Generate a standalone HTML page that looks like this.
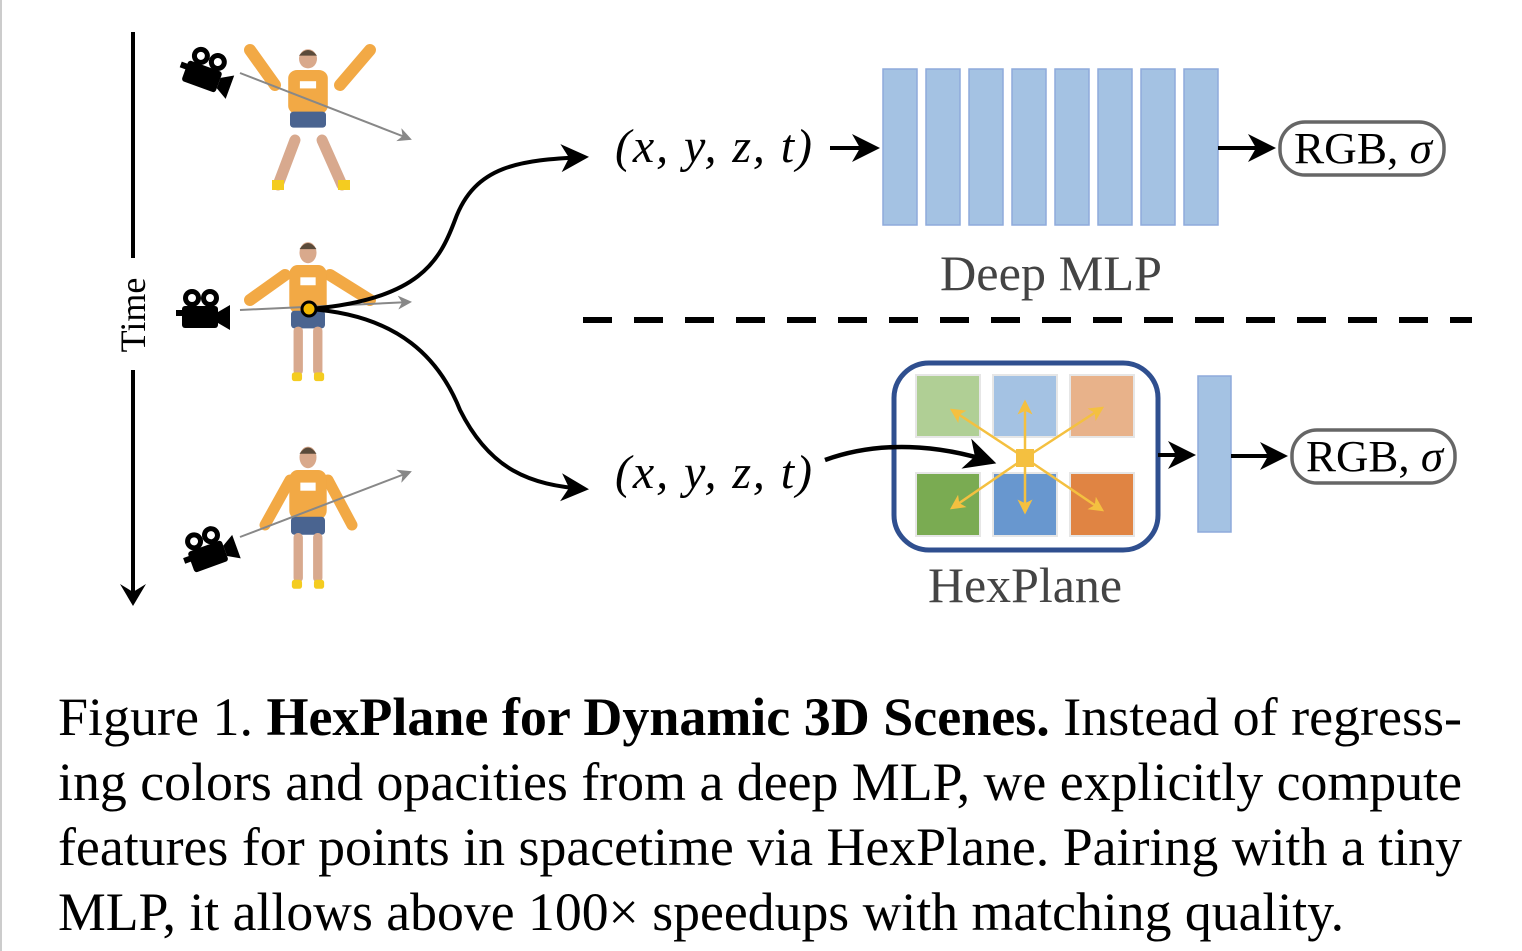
<!DOCTYPE html>
<html><head><meta charset="utf-8"><style>
html,body{margin:0;padding:0;background:#fff;}
svg{display:block;}
</style></head><body>
<svg width="1522" height="951" viewBox="0 0 1522 951" xmlns="http://www.w3.org/2000/svg">
<defs>
<marker id="ah" markerWidth="8" markerHeight="8" refX="6" refY="4" orient="auto" markerUnits="strokeWidth"><path d="M0,0.5 L7,4 L0,7.5 L2,4 Z" fill="#000"/></marker>
<marker id="ag" markerWidth="8" markerHeight="8" refX="6" refY="4" orient="auto" markerUnits="strokeWidth"><path d="M0,0.5 L7,4 L0,7.5 L2,4 Z" fill="#888"/></marker>
<marker id="ay" markerWidth="6" markerHeight="6" refX="5" refY="3" orient="auto" markerUnits="strokeWidth"><path d="M0,0 L6,3 L0,6 L1.5,3 Z" fill="#f4c040"/></marker>
<g id="cam">
<circle cx="-8" cy="-10" r="9" fill="#000"/><circle cx="10" cy="-10" r="9" fill="#000"/>
<circle cx="-8" cy="-10" r="4" fill="#fff"/><circle cx="10" cy="-10" r="4" fill="#fff"/>
<rect x="-18" y="-2" width="36" height="22" rx="3" fill="#000"/>
<path d="M18,4 L30,-3 L30,22 L18,15 Z" fill="#000"/>
<rect x="-24" y="2" width="8" height="6" fill="#000"/>
</g>
<g id="person">
<rect x="-22" y="0" width="44" height="55" rx="10" fill="#f2a945"/>
<rect x="-20" y="52" width="40" height="20" rx="4" fill="#4a6490"/>
<rect x="-17" y="70" width="11" height="55" rx="5" fill="#d8a98e"/>
<rect x="6" y="70" width="11" height="55" rx="5" fill="#d8a98e"/>
<rect x="-19" y="122" width="12" height="10" rx="3" fill="#f4cc20"/>
<rect x="7" y="122" width="12" height="10" rx="3" fill="#f4cc20"/>
<ellipse cx="0" cy="-14" rx="10" ry="12" fill="#d9a98c"/>
<path d="M-10,-18 Q0,-32 10,-18 Z" fill="#5a4a3a"/>
<rect x="-9" y="14" width="18" height="9" fill="#fff"/>
</g>
</defs>
<line x1="1" y1="0" x2="1" y2="951" stroke="#ccc" stroke-width="2"/>

<line x1="133" y1="32" x2="133" y2="258" stroke="#000" stroke-width="4"/>
<line x1="133" y1="370" x2="133" y2="600" stroke="#000" stroke-width="4"/>
<path d="M120,584 L133,606 L146,584 L133,592 Z" fill="#000"/>
<text transform="translate(145,315) rotate(-90)" text-anchor="middle" font-family="Liberation Serif, serif" font-size="36">Time</text>

<path d="M275,85 L250,50 M340,85 L370,50" stroke="#f2a945" stroke-width="12" stroke-linecap="round"/>
<path d="M295,140 L278,185 M322,140 L342,185" stroke="#d8a98e" stroke-width="11" stroke-linecap="round"/>
<g transform="translate(308,70) scale(0.9,0.8)"><rect x="-22" y="0" width="44" height="55" rx="10" fill="#f2a945"/><rect x="-20" y="52" width="40" height="20" rx="4" fill="#4a6490"/><ellipse cx="0" cy="-14" rx="10" ry="12" fill="#d9a98c"/><path d="M-10,-18 Q0,-32 10,-18 Z" fill="#5a4a3a"/><rect x="-9" y="14" width="18" height="9" fill="#fff"/></g>
<rect x="272" y="180" width="12" height="10" fill="#f4cc20"/><rect x="338" y="180" width="12" height="10" fill="#f4cc20"/>
<use href="#cam" transform="translate(205,68) rotate(20)"/>
<line x1="240" y1="73" x2="410" y2="139" stroke="#888" stroke-width="2" marker-end="url(#ag)"/>

<path d="M285,275 L250,300 M330,275 L370,300" stroke="#f2a945" stroke-width="12" stroke-linecap="round"/>
<use href="#person" transform="translate(308,265) scale(0.85,0.88)"/>
<use href="#cam" transform="translate(200,308)"/>
<line x1="240" y1="310" x2="410" y2="302" stroke="#888" stroke-width="2" marker-end="url(#ag)"/>

<path d="M290,480 L265,525 M328,480 L352,525" stroke="#f2a945" stroke-width="11" stroke-linecap="round"/>
<use href="#person" transform="translate(308,470) scale(0.85,0.9)"/>
<use href="#cam" transform="translate(205,548) rotate(-20)"/>
<line x1="240" y1="537" x2="410" y2="472" stroke="#888" stroke-width="2" marker-end="url(#ag)"/>

<path d="M309,309 C420,300 440,260 455,220 C475,165 520,160 585,157" fill="none" stroke="#000" stroke-width="4" marker-end="url(#ah)"/>
<path d="M309,309 C400,315 440,360 460,410 C490,470 530,485 585,489" fill="none" stroke="#000" stroke-width="4" marker-end="url(#ah)"/>
<circle cx="309" cy="309" r="7" fill="#f4b800" stroke="#000" stroke-width="3"/>

<text x="615" y="162" textLength="197" lengthAdjust="spacing" font-family="Liberation Serif, serif" font-style="italic" font-size="48">(x, y, z, t)</text>
<line x1="830" y1="148" x2="876" y2="148" stroke="#000" stroke-width="4" marker-end="url(#ah)"/>
<g fill="#a4c2e3" stroke="#8eaadb" stroke-width="1.5">
<rect x="883" y="69" width="34" height="156"/><rect x="926" y="69" width="34" height="156"/>
<rect x="969" y="69" width="34" height="156"/><rect x="1012" y="69" width="34" height="156"/>
<rect x="1055" y="69" width="34" height="156"/><rect x="1098" y="69" width="34" height="156"/>
<rect x="1141" y="69" width="34" height="156"/><rect x="1184" y="69" width="34" height="156"/>
</g>
<line x1="1218" y1="148" x2="1272" y2="148" stroke="#000" stroke-width="4" marker-end="url(#ah)"/>
<rect x="1280" y="122" width="164" height="53" rx="25" fill="#fff" stroke="#666" stroke-width="3.5"/>
<text x="1294" y="163" textLength="138" lengthAdjust="spacingAndGlyphs" font-family="Liberation Serif, serif" font-size="44">RGB, <tspan font-style="italic">σ</tspan></text>
<text x="940" y="290" textLength="222" lengthAdjust="spacingAndGlyphs" font-family="Liberation Serif, serif" font-size="50" fill="#444">Deep MLP</text>

<line x1="583" y1="320" x2="1472" y2="320" stroke="#000" stroke-width="6" stroke-dasharray="29,22"/>

<text x="615" y="488" textLength="197" lengthAdjust="spacing" font-family="Liberation Serif, serif" font-style="italic" font-size="48">(x, y, z, t)</text>
<rect x="894" y="363" width="264" height="187" rx="35" fill="#fff" stroke="#2f4f8f" stroke-width="5"/>
<g stroke="#e6e6e6" stroke-width="2">
<rect x="916" y="375" width="64" height="62" fill="#b0cf95"/>
<rect x="993" y="375" width="64" height="62" fill="#a4c2e3"/>
<rect x="1070" y="375" width="64" height="62" fill="#e8b28a"/>
<rect x="916" y="473" width="64" height="63" fill="#7aab52"/>
<rect x="993" y="473" width="64" height="63" fill="#6897cf"/>
<rect x="1070" y="473" width="64" height="63" fill="#e08443"/>
</g>
<g stroke="#f4c040" stroke-width="2.5" marker-end="url(#ay)">
<line x1="1025" y1="458" x2="952" y2="410"/>
<line x1="1025" y1="458" x2="1025" y2="402"/>
<line x1="1025" y1="458" x2="1102" y2="408"/>
<line x1="1025" y1="458" x2="952" y2="508"/>
<line x1="1025" y1="458" x2="1025" y2="512"/>
<line x1="1025" y1="458" x2="1102" y2="510"/>
</g>
<rect x="1016" y="449" width="18" height="18" fill="#f4c040"/>
<path d="M825,460 C880,440 940,445 992,462" fill="none" stroke="#000" stroke-width="4.5" marker-end="url(#ah)"/>
<line x1="1158" y1="455" x2="1192" y2="455" stroke="#000" stroke-width="4" marker-end="url(#ah)"/>
<rect x="1198" y="376" width="33" height="156" fill="#a4c2e3" stroke="#8eaadb" stroke-width="1.5"/>
<line x1="1231" y1="456" x2="1284" y2="456" stroke="#000" stroke-width="4" marker-end="url(#ah)"/>
<rect x="1292" y="430" width="163" height="53" rx="25" fill="#fff" stroke="#666" stroke-width="3.5"/>
<text x="1306" y="471" textLength="137" lengthAdjust="spacingAndGlyphs" font-family="Liberation Serif, serif" font-size="44">RGB, <tspan font-style="italic">σ</tspan></text>
<text x="928" y="602" textLength="194" lengthAdjust="spacingAndGlyphs" font-family="Liberation Serif, serif" font-size="50" fill="#444">HexPlane</text>

<g font-family="Liberation Serif, serif" font-size="54" fill="#000">
<text x="58" y="735" textLength="1404" lengthAdjust="spacingAndGlyphs">Figure 1. <tspan font-weight="bold">HexPlane for Dynamic 3D Scenes.</tspan> Instead of regress-</text>
<text x="58" y="800" textLength="1404" lengthAdjust="spacingAndGlyphs">ing colors and opacities from a deep MLP, we explicitly compute</text>
<text x="58" y="865" textLength="1404" lengthAdjust="spacingAndGlyphs">features for points in spacetime via HexPlane. Pairing with a tiny</text>
<text x="58" y="930" textLength="1286" lengthAdjust="spacingAndGlyphs">MLP, it allows above 100× speedups with matching quality.</text>
</g>
</svg>
</body></html>
